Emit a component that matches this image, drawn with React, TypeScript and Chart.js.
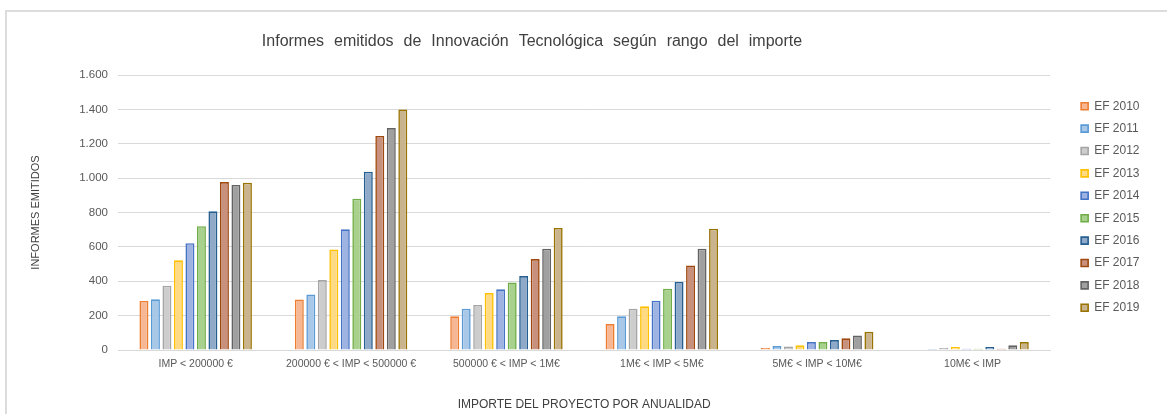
import React, { useEffect, useRef } from "react";
import { Chart, registerables } from "chart.js";

Chart.register(...registerables);

const TITLE = "Informes emitidos de Innovación Tecnológica según rango del importe";
const X_TITLE = "IMPORTE DEL PROYECTO POR ANUALIDAD";
const Y_TITLE = "INFORMES EMITIDOS";

const categories = [
  "IMP < 200000 €",
  "200000 € < IMP < 500000 €",
  "500000 € < IMP < 1M€",
  "1M€ < IMP < 5M€",
  "5M€ < IMP < 10M€",
  "10M€ < IMP",
];

const seriesNames = [
  "EF 2010", "EF 2011", "EF 2012", "EF 2013", "EF 2014",
  "EF 2015", "EF 2016", "EF 2017", "EF 2018", "EF 2019",
];

const ef2010 = [285, 294, 196, 151, 12, 3];
const ef2011 = [295, 323, 240, 196, 23, 6];
const ef2012 = [374, 407, 262, 240, 20, 12];
const ef2013 = [522, 585, 331, 254, 27, 17];
const ef2014 = [621, 702, 353, 287, 46, 8];
const ef2015 = [720, 880, 393, 357, 46, 8];
const ef2016 = [807, 1037, 430, 396, 58, 17];
const ef2017 = [977, 1245, 529, 492, 68, 8];
const ef2018 = [960, 1291, 589, 589, 85, 27];
const ef2019 = [973, 1400, 710, 706, 106, 46];

const yMin = 0;
const yMax = 1600;
const yStep = 200;

const fills = [
  "#F6B894", "#A9C8E8", "#CDCDCD", "#FFDA85", "#9EB3E2",
  "#A9D18E", "#8FA9C8", "#C8917E", "#A0A0A0", "#C9B48E",
];
const borders = [
  "#ED7D31", "#5B9BD5", "#A5A5A5", "#FFC000", "#4472C4",
  "#70AD47", "#255E91", "#9E480E", "#636363", "#997300",
];

const FONT = "'Liberation Sans', Arial, sans-serif";

function formatThousands(v: number): string {
  return String(Math.round(v)).replace(/\B(?=(\d{3})+(?!\d))/g, ".");
}

const titlePlugin = {
  id: "customTitle",
  afterDraw(chart: any) {
    const ctx = chart.ctx;
    const area = chart.chartArea;
    ctx.save();
    ctx.font = `16px ${FONT}`;
    try {
      (ctx as any).wordSpacing = "5.5px";
    } catch (e) {}
    ctx.fillStyle = "#404040";
    ctx.textAlign = "center";
    ctx.textBaseline = "middle";
    ctx.fillText(TITLE, area.left + 414, 42);
    ctx.restore();
  },
};

export default function App() {
  const ref = useRef<HTMLCanvasElement>(null);

  useEffect(() => {
    const values = [ef2010, ef2011, ef2012, ef2013, ef2014, ef2015, ef2016, ef2017, ef2018, ef2019];
    Chart.defaults.font.family = FONT;
    const chart = new Chart(ref.current as HTMLCanvasElement, {
      type: "bar",
      data: {
        labels: categories,
        datasets: seriesNames.map((name, i) => ({
          label: name,
          data: values[i],
          backgroundColor: fills[i],
          borderColor: borders[i],
          borderWidth: 1.6,
          barPercentage: 0.78,
          categoryPercentage: 0.74,
        })),
      },
      options: {
        responsive: false,
        animation: false,
        devicePixelRatio: 1,
        layout: { padding: { left: 0, right: 17.5, top: 0, bottom: 0 } },
        plugins: {
          title: { display: false },
          tooltip: { enabled: false },
          legend: {
            position: "right",
            align: "center",
            fullSize: true,
            labels: {
              boxWidth: 7,
              boxHeight: 7,
              padding: 10.4,
              color: "#595959",
              font: { family: FONT, size: 12 },
            },
          },
        },
        scales: {
          x: {
            position: "bottom",
            grid: { display: false, drawTicks: false },
            border: { display: true, color: "#d9d9d9", width: 1 },
            ticks: {
              color: "#595959",
              font: { family: FONT, size: 10.5 },
              padding: 8,
              maxRotation: 0,
              autoSkip: false,
            },
            title: {
              display: true,
              text: X_TITLE,
              color: "#404040",
              font: { family: FONT, size: 12 },
              padding: { top: 0, bottom: 2 },
            },
            afterFit: (s: any) => {
              s.height = 64;
            },
          },
          xTop: {
            type: "linear",
            position: "top",
            display: true,
            grid: { display: false, drawTicks: false },
            border: { display: false },
            ticks: { display: false },
            afterFit: (s: any) => {
              s.height = 75;
            },
          },
          y: {
            min: yMin,
            max: yMax,
            grid: { color: "#d9d9d9", lineWidth: 1, drawTicks: false },
            border: { display: false },
            ticks: {
              stepSize: yStep,
              color: "#595959",
              font: { family: FONT, size: 11.5 },
              padding: 10,
              callback: (v: any) => formatThousands(Number(v)),
            },
            title: {
              display: true,
              text: Y_TITLE,
              color: "#404040",
              font: { family: FONT, size: 11 },
              padding: { top: 29, bottom: 0 },
            },
            afterFit: (s: any) => {
              s.width = 118;
            },
          },
          yRight: {
            type: "linear",
            position: "right",
            display: true,
            grid: { display: false, drawTicks: false },
            border: { display: false },
            ticks: { display: false },
            afterFit: (s: any) => {
              s.width = 20.5;
            },
          },
        },
      },
      plugins: [titlePlugin],
    } as any);
    return () => chart.destroy();
  }, []);

  return (
    <div style={{ position: "fixed", left: 0, top: 0, width: 1167, height: 414, background: "#ffffff" }}>
      <div
        style={{
          position: "absolute",
          left: 5,
          top: 10,
          right: 0,
          bottom: 0,
          borderTop: "2px solid #dcdcdc",
          borderLeft: "2px solid #dcdcdc",
        }}
      />
      <canvas
        ref={ref}
        width={1167}
        height={414}
        style={{ position: "absolute", left: 0, top: 0, width: 1167, height: 414 }}
      />
    </div>
  );
}
